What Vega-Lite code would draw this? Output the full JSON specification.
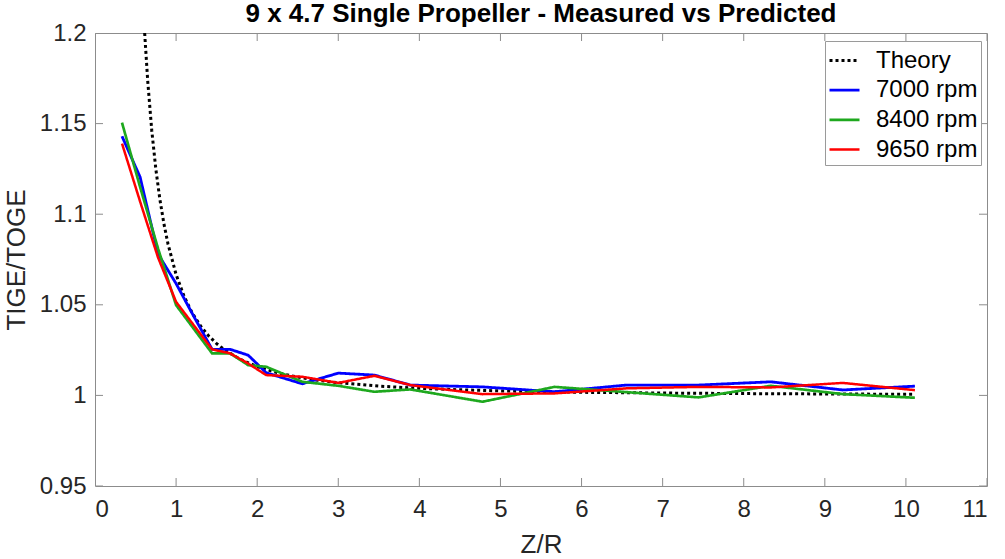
{
  "$schema": "https://vega.github.io/schema/vega-lite/v6.json",
  "width": 892,
  "height": 453,
  "autosize": {"type": "none"},
  "padding": {"left": 95, "top": 33, "right": 18, "bottom": 73},
  "title": {"text": "9 x 4.7 Single Propeller - Measured vs Predicted", "fontSize": 26, "fontWeight": "bold", "font": "Liberation Sans", "color": "#000000", "anchor": "middle", "frame": "group", "offset": -27, "baseline": "alphabetic"},
  "config": {
    "view": {"stroke": "#8c8c8c", "strokeWidth": 1},
    "axis": {"domain": false, "ticks": false, "labelColor": "#262626", "titleColor": "#262626", "labelFont": "Liberation Sans", "titleFont": "Liberation Sans", "labelFontSize": 24, "titleFontSize": 26, "titleFontWeight": "normal", "grid": false},
    "legend": {"labelFont": "Liberation Sans", "labelFontSize": 24, "labelColor": "#000000"}
  },
  "datasets": {
    "xt": [{"t": 0}, {"t": 1}, {"t": 2}, {"t": 3}, {"t": 4}, {"t": 5}, {"t": 6}, {"t": 7}, {"t": 8}, {"t": 9}, {"t": 10}, {"t": 11}],
    "yt": [{"t": 0.95}, {"t": 1}, {"t": 1.05}, {"t": 1.1}, {"t": 1.15}, {"t": 1.2}]
  },
  "data": {"values": [
    {"series": "Theory", "zr": 0.6124, "ratio": 1.2},
    {"series": "Theory", "zr": 0.65, "ratio": 1.1736},
    {"series": "Theory", "zr": 0.7, "ratio": 1.1462},
    {"series": "Theory", "zr": 0.75, "ratio": 1.125},
    {"series": "Theory", "zr": 0.8, "ratio": 1.1082},
    {"series": "Theory", "zr": 0.85, "ratio": 1.0947},
    {"series": "Theory", "zr": 0.9, "ratio": 1.0836},
    {"series": "Theory", "zr": 1.0, "ratio": 1.0667},
    {"series": "Theory", "zr": 1.1, "ratio": 1.0545},
    {"series": "Theory", "zr": 1.2, "ratio": 1.0454},
    {"series": "Theory", "zr": 1.3, "ratio": 1.0384},
    {"series": "Theory", "zr": 1.4, "ratio": 1.0329},
    {"series": "Theory", "zr": 1.5, "ratio": 1.0286},
    {"series": "Theory", "zr": 1.6, "ratio": 1.025},
    {"series": "Theory", "zr": 1.8, "ratio": 1.0197},
    {"series": "Theory", "zr": 2.0, "ratio": 1.0159},
    {"series": "Theory", "zr": 2.25, "ratio": 1.0125},
    {"series": "Theory", "zr": 2.5, "ratio": 1.0101},
    {"series": "Theory", "zr": 2.75, "ratio": 1.0083},
    {"series": "Theory", "zr": 3.0, "ratio": 1.007},
    {"series": "Theory", "zr": 3.5, "ratio": 1.0051},
    {"series": "Theory", "zr": 4.0, "ratio": 1.0039},
    {"series": "Theory", "zr": 4.5, "ratio": 1.0031},
    {"series": "Theory", "zr": 5.0, "ratio": 1.0025},
    {"series": "Theory", "zr": 6.0, "ratio": 1.0017},
    {"series": "Theory", "zr": 7.0, "ratio": 1.0013},
    {"series": "Theory", "zr": 8.0, "ratio": 1.001},
    {"series": "Theory", "zr": 9.0, "ratio": 1.0008},
    {"series": "Theory", "zr": 10.111, "ratio": 1.0006},

    {"series": "7000 rpm", "zr": 0.333, "ratio": 1.143},
    {"series": "7000 rpm", "zr": 0.556, "ratio": 1.1205},
    {"series": "7000 rpm", "zr": 0.778, "ratio": 1.078},
    {"series": "7000 rpm", "zr": 1.0, "ratio": 1.0617},
    {"series": "7000 rpm", "zr": 1.222, "ratio": 1.0433},
    {"series": "7000 rpm", "zr": 1.444, "ratio": 1.0254},
    {"series": "7000 rpm", "zr": 1.667, "ratio": 1.0254},
    {"series": "7000 rpm", "zr": 1.889, "ratio": 1.0222},
    {"series": "7000 rpm", "zr": 2.111, "ratio": 1.0125},
    {"series": "7000 rpm", "zr": 2.556, "ratio": 1.0064},
    {"series": "7000 rpm", "zr": 3.0, "ratio": 1.0123},
    {"series": "7000 rpm", "zr": 3.444, "ratio": 1.0112},
    {"series": "7000 rpm", "zr": 3.889, "ratio": 1.0057},
    {"series": "7000 rpm", "zr": 4.778, "ratio": 1.0047},
    {"series": "7000 rpm", "zr": 5.667, "ratio": 1.002},
    {"series": "7000 rpm", "zr": 6.556, "ratio": 1.0057},
    {"series": "7000 rpm", "zr": 7.444, "ratio": 1.0057},
    {"series": "7000 rpm", "zr": 8.333, "ratio": 1.0075},
    {"series": "7000 rpm", "zr": 9.222, "ratio": 1.003},
    {"series": "7000 rpm", "zr": 10.111, "ratio": 1.0051},

    {"series": "8400 rpm", "zr": 0.333, "ratio": 1.1505},
    {"series": "8400 rpm", "zr": 0.556, "ratio": 1.115},
    {"series": "8400 rpm", "zr": 0.778, "ratio": 1.081},
    {"series": "8400 rpm", "zr": 1.0, "ratio": 1.0498},
    {"series": "8400 rpm", "zr": 1.222, "ratio": 1.0365},
    {"series": "8400 rpm", "zr": 1.444, "ratio": 1.0232},
    {"series": "8400 rpm", "zr": 1.667, "ratio": 1.0232},
    {"series": "8400 rpm", "zr": 1.889, "ratio": 1.0167},
    {"series": "8400 rpm", "zr": 2.111, "ratio": 1.0158},
    {"series": "8400 rpm", "zr": 2.556, "ratio": 1.0075},
    {"series": "8400 rpm", "zr": 3.0, "ratio": 1.0053},
    {"series": "8400 rpm", "zr": 3.444, "ratio": 1.002},
    {"series": "8400 rpm", "zr": 3.889, "ratio": 1.0033},
    {"series": "8400 rpm", "zr": 4.778, "ratio": 0.9965},
    {"series": "8400 rpm", "zr": 5.667, "ratio": 1.0047},
    {"series": "8400 rpm", "zr": 6.556, "ratio": 1.0018},
    {"series": "8400 rpm", "zr": 7.444, "ratio": 0.9989},
    {"series": "8400 rpm", "zr": 8.333, "ratio": 1.0053},
    {"series": "8400 rpm", "zr": 9.222, "ratio": 1.0007},
    {"series": "8400 rpm", "zr": 10.111, "ratio": 0.9987},

    {"series": "9650 rpm", "zr": 0.333, "ratio": 1.139},
    {"series": "9650 rpm", "zr": 0.556, "ratio": 1.107},
    {"series": "9650 rpm", "zr": 0.778, "ratio": 1.076},
    {"series": "9650 rpm", "zr": 1.0, "ratio": 1.0516},
    {"series": "9650 rpm", "zr": 1.222, "ratio": 1.0385},
    {"series": "9650 rpm", "zr": 1.444, "ratio": 1.0254},
    {"series": "9650 rpm", "zr": 1.667, "ratio": 1.0232},
    {"series": "9650 rpm", "zr": 1.889, "ratio": 1.0176},
    {"series": "9650 rpm", "zr": 2.111, "ratio": 1.0112},
    {"series": "9650 rpm", "zr": 2.556, "ratio": 1.0103},
    {"series": "9650 rpm", "zr": 3.0, "ratio": 1.0069},
    {"series": "9650 rpm", "zr": 3.444, "ratio": 1.0108},
    {"series": "9650 rpm", "zr": 3.889, "ratio": 1.0057},
    {"series": "9650 rpm", "zr": 4.778, "ratio": 1.0007},
    {"series": "9650 rpm", "zr": 5.667, "ratio": 1.0011},
    {"series": "9650 rpm", "zr": 6.556, "ratio": 1.0039},
    {"series": "9650 rpm", "zr": 7.444, "ratio": 1.0047},
    {"series": "9650 rpm", "zr": 8.333, "ratio": 1.0044},
    {"series": "9650 rpm", "zr": 9.222, "ratio": 1.0069},
    {"series": "9650 rpm", "zr": 10.111, "ratio": 1.0029}
  ]},
  "layer": [
    {
      "mark": {"type": "line", "clip": true, "strokeCap": "butt"},
      "encoding": {
        "x": {"field": "zr", "type": "quantitative", "title": "Z/R", "scale": {"domain": [0, 11], "nice": false, "zero": false},
              "axis": {"values": [0,1,2,3,4,5,6,7,8,9,10,11], "format": "d", "title": "Z/R", "titlePadding": 10, "labelPadding": 11}},
        "y": {"field": "ratio", "type": "quantitative", "title": "TIGE/TOGE", "scale": {"domain": [0.95, 1.2], "nice": false, "zero": false},
              "axis": {"values": [0.95,1,1.05,1.1,1.15,1.2], "format": ".2~f", "title": "TIGE/TOGE", "titlePadding": 10, "labelPadding": 9}},
        "color": {"field": "series", "type": "nominal",
                  "scale": {"domain": ["Theory", "7000 rpm", "8400 rpm", "9650 rpm"], "range": ["#000000", "#0000ff", "#1ea81e", "#ff0000"]},
                  "legend": {"title": null, "orient": "none", "legendX": 730, "legendY": 8, "symbolType": "stroke", "symbolSize": 900, "labelOffset": 15, "padding": 3, "rowPadding": 0.7, "fillColor": "#ffffff", "strokeColor": "#9a9a9a"}},
        "strokeDash": {"field": "series", "type": "nominal",
                  "scale": {"domain": ["Theory", "7000 rpm", "8400 rpm", "9650 rpm"], "range": [[3, 3], [1, 0], [1, 0], [1, 0]]}},
        "strokeWidth": {"field": "series", "type": "nominal",
                  "scale": {"domain": ["Theory", "7000 rpm", "8400 rpm", "9650 rpm"], "range": [3, 2.5, 2.5, 2.5]}}
      }
    },
    {
      "data": {"name": "xt"},
      "mark": {"type": "tick", "orient": "vertical", "size": 16, "thickness": 1, "color": "#8c8c8c", "clip": true, "opacity": 1},
      "encoding": {
        "x": {"field": "t", "type": "quantitative", "title": "Z/R"},
        "y": {"datum": 0.95, "type": "quantitative", "title": "TIGE/TOGE"}
      }
    },
    {
      "data": {"name": "xt"},
      "mark": {"type": "tick", "orient": "vertical", "size": 16, "thickness": 1, "color": "#8c8c8c", "clip": true, "opacity": 1},
      "encoding": {
        "x": {"field": "t", "type": "quantitative", "title": "Z/R"},
        "y": {"datum": 1.2, "type": "quantitative", "title": "TIGE/TOGE"}
      }
    },
    {
      "data": {"name": "yt"},
      "mark": {"type": "tick", "orient": "horizontal", "size": 16, "thickness": 1, "color": "#8c8c8c", "clip": true, "opacity": 1},
      "encoding": {
        "y": {"field": "t", "type": "quantitative", "title": "TIGE/TOGE"},
        "x": {"datum": 0, "type": "quantitative", "title": "Z/R"}
      }
    },
    {
      "data": {"name": "yt"},
      "mark": {"type": "tick", "orient": "horizontal", "size": 16, "thickness": 1, "color": "#8c8c8c", "clip": true, "opacity": 1},
      "encoding": {
        "y": {"field": "t", "type": "quantitative", "title": "TIGE/TOGE"},
        "x": {"datum": 11, "type": "quantitative", "title": "Z/R"}
      }
    }
  ]
}
